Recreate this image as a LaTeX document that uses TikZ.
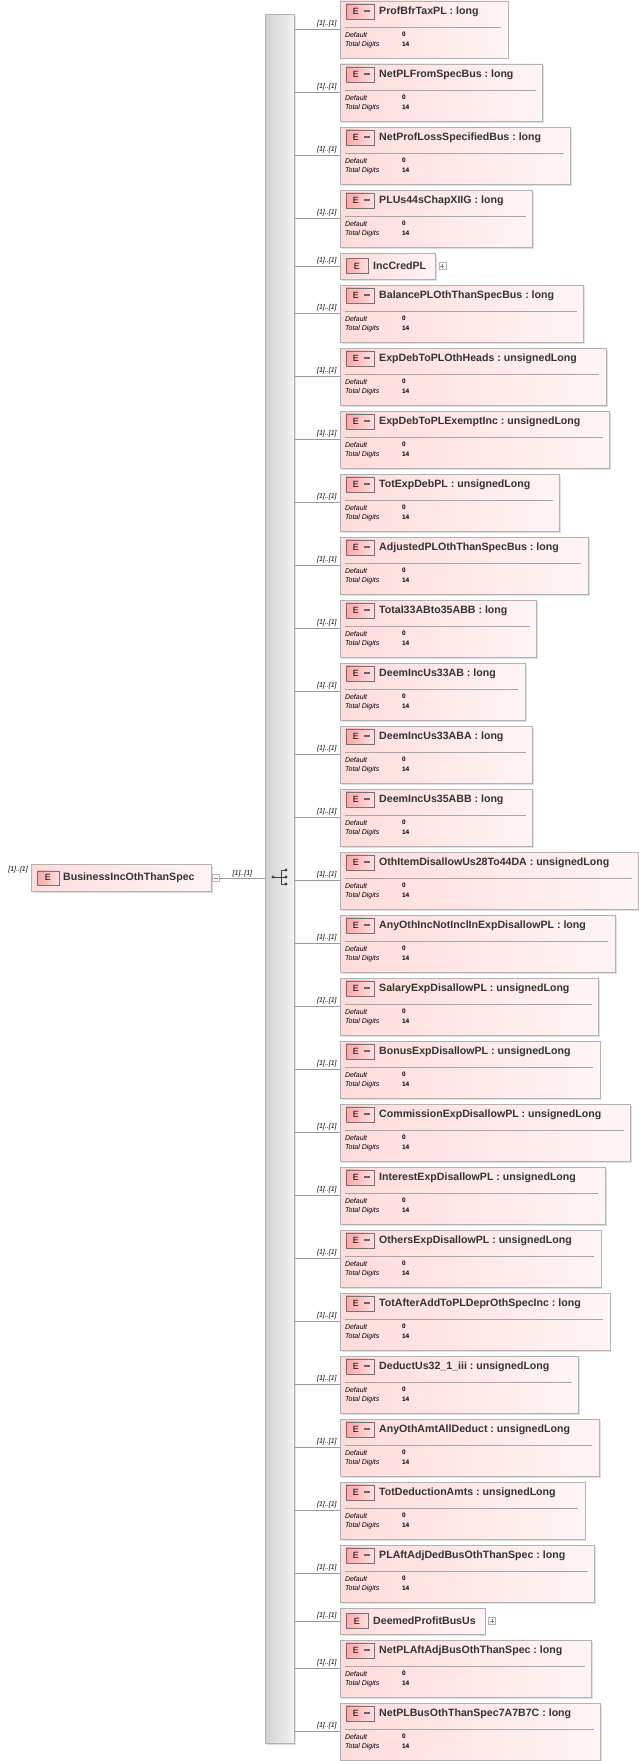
\documentclass[tikz,border=0pt]{standalone}
\usepackage{fontspec}
\setsansfont{Liberation Sans}
\usetikzlibrary{calc,positioning,shadows,fit,backgrounds}
\tikzstyle{ebox}=[draw=black!30, left color=red!14!white, right color=red!4!white, inner sep=0,
  drop shadow={shadow xshift=1.5pt, shadow yshift=-1.5pt, opacity=.25}]
\tikzstyle{eicon}=[draw=black!55, left color=red!35!white, right color=red!12!white, inner sep=0,
  minimum width=28pt, minimum height=15pt]
\tikzstyle{mult}=[font=\sffamily\itshape\fontsize{7}{8}\selectfont, inner sep=1pt, text=black]
\tikzstyle{facet}=[font=\sffamily\itshape\fontsize{7}{8}\selectfont, inner sep=0, anchor=west]
\tikzstyle{fval}=[font=\sffamily\bfseries\fontsize{6.5}{7}\selectfont, inner sep=0, anchor=west]
\tikzstyle{plus}=[draw=black!30, minimum size=7pt, inner sep=0, fill=white]
\tikzstyle{ename}=[anchor=west, inner sep=0, text=black!80,
  font=\sffamily\bfseries\fontsize{10.6}{12}\selectfont]
\begin{document}
\begin{tikzpicture}[x=1pt,y=-1pt]
\useasboundingbox (0,0) rectangle (638,1761);
% sequence bar
\node[draw=black!30, left color=black!18, right color=black!5, inner sep=0, minimum width=29pt,
  minimum height=1729pt, anchor=north west,
  drop shadow={shadow xshift=1.5pt, shadow yshift=-1.5pt, opacity=.25}] (seq) at (265,14) {};
\draw[black!75, line width=.8pt] (273,877) -- (281,877) (281,870) -- (281,884)
  (281,870) -- (286,870) (281,884) -- (286,884) (281,877) -- (286,877);
\foreach \yy in {870,877,884} \fill[black!75] (286,\yy) circle (1.6);
\fill[black!75] (273,877) circle (1.6);
% root element
\node[ebox, minimum width=180pt, minimum height=27pt, anchor=north west] (root) at (31,864) {};
\node[eicon, minimum width=22pt, minimum height=14pt] (rooticon) at ($(root.west)+(17,0)$) {\sffamily\fontsize{9}{10}\selectfont E};
\node[ename] at ($(root.west)+(32,0)$) {BusinessIncOthThanSpec};
\node[plus, anchor=west] (rootminus) at ($(root.east)+(1,0)$) {};
\draw[black!50, line width=.4pt] ($(rootminus.center)+(-2,0)$) -- ($(rootminus.center)+(2,0)$);
\node[mult, anchor=south east] at ($(root.north west)+(-2,10)$) {[1]..[1]};
\draw[black!40] (rootminus.east) -- (seq.west |- rootminus.east)
  node[mult, pos=.5, anchor=south] {[1]..[1]};
% children
\xdef\ytop{1}
\foreach \k/\nm/\ty [count=\i] in {
  f/ProfBfrTaxPL/long, f/NetPLFromSpecBus/long, f/NetProfLossSpecifiedBus/long,
  f/PLUs44sChapXIIG/long, s/IncCredPL/, f/BalancePLOthThanSpecBus/long,
  f/ExpDebToPLOthHeads/unsignedLong, f/ExpDebToPLExemptInc/unsignedLong,
  f/TotExpDebPL/unsignedLong, f/AdjustedPLOthThanSpecBus/long, f/Total33ABto35ABB/long,
  f/DeemIncUs33AB/long, f/DeemIncUs33ABA/long, f/DeemIncUs35ABB/long,
  f/OthItemDisallowUs28To44DA/unsignedLong, f/AnyOthIncNotInclInExpDisallowPL/long,
  f/SalaryExpDisallowPL/unsignedLong, f/BonusExpDisallowPL/unsignedLong,
  f/CommissionExpDisallowPL/unsignedLong, f/InterestExpDisallowPL/unsignedLong,
  f/OthersExpDisallowPL/unsignedLong, f/TotAfterAddToPLDeprOthSpecInc/long,
  f/DeductUs32\_1\_iii/unsignedLong, f/AnyOthAmtAllDeduct/unsignedLong,
  f/TotDeductionAmts/unsignedLong, f/PLAftAdjDedBusOthThanSpec/long,
  s/DeemedProfitBusUs/, f/NetPLAftAdjBusOthThanSpec/long, f/NetPLBusOthThanSpec7A7B7C/long}{
  \coordinate (tl\i) at (340,\ytop);
  \if\k f
    \coordinate (bl\i) at (340,\ytop+57);
    \node[ename] (t\i) at (379,\ytop+11) {\nm\ :\ \ty};
    \coordinate (te\i) at ($(t\i.east)+(29,0)$);
    \begin{scope}[on background layer]
      \node[ebox, fit=(tl\i) (bl\i) (te\i)] (b\i) {};
    \end{scope}
    \node[eicon] (ic\i) at ($(b\i.north west)+(20,10.5)$) {};
    \node[inner sep=0] at ($(ic\i.center)+(-4,0)$) {\sffamily\fontsize{9}{10}\selectfont E};
    \fill[black!60] ($(ic\i.center)+(4,-1)$) rectangle ($(ic\i.center)+(10,1)$);
    \draw[black!35] ($(b\i.north west)+(5,26)$) -- ($(b\i.north east)+(-7,26)$);
    \node[facet] at ($(b\i.north west)+(5,34)$) {Default};
    \node[facet] at ($(b\i.north west)+(5,44)$) {Total Digits};
    \node[fval] at ($(b\i.north west)+(62,33.5)$) {0};
    \node[fval] at ($(b\i.north west)+(62,43.5)$) {14};
    \pgfmathsetmacro\ynext{\ytop+63}
  \else
    \coordinate (bl\i) at (340,\ytop+26);
    \node[ename] (t\i) at (373,\ytop+13) {\nm};
    \coordinate (te\i) at ($(t\i.east)+(9,0)$);
    \begin{scope}[on background layer]
      \node[ebox, fit=(tl\i) (bl\i) (te\i)] (b\i) {};
    \end{scope}
    \node[eicon, minimum width=22pt] (ic\i) at ($(b\i.west)+(17,0)$) {\sffamily\fontsize{9}{10}\selectfont E};
    \node[plus, anchor=west] (p\i) at ($(b\i.east)+(3,0)$) {};
    \draw[black!50, line width=.4pt] ($(p\i.center)+(-2,0)$) -- ($(p\i.center)+(2,0)$)
      ($(p\i.center)+(0,-2)$) -- ($(p\i.center)+(0,2)$);
    \pgfmathsetmacro\ynext{\ytop+32}
  \fi
  \draw[black!40] (seq.east |- b\i.west) -- (b\i.west);
  \node[mult, anchor=south east] at ($(b\i.west)+(-2,-1)$) {[1]..[1]};
  \xdef\ytop{\ynext}
}
\end{tikzpicture}
\end{document}
